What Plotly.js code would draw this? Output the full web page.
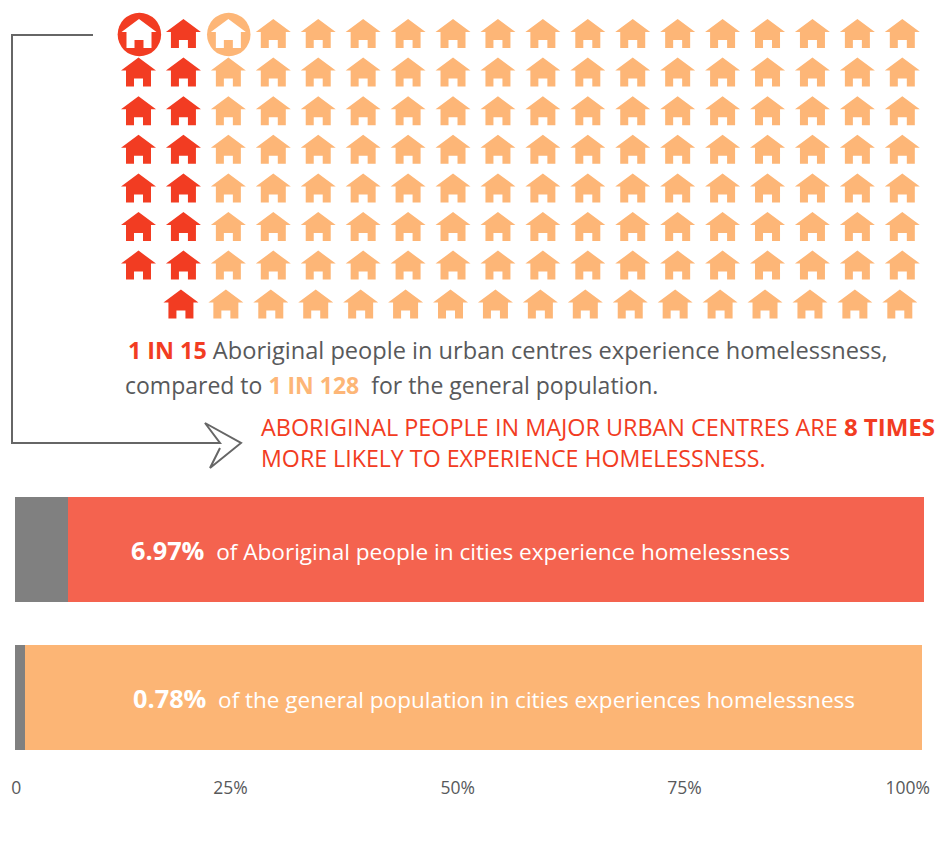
<!DOCTYPE html>
<html><head><meta charset="utf-8">
<script src="https://cdn.plot.ly/plotly-3.0.1.min.js"></script>
<style>html,body{margin:0;padding:0;background:#fff}</style></head>
<body><div id="chart" style="width:939px;height:848px"></div>
<script>
// ---- data ----
const barCategories = ["General population", "Aboriginal people"];
const grayShare = [1.1, 5.8];
const colourShare = [98.7, 94.2];
const tickPositions = [0.15, 23.7, 48.7, 73.65, 98.2];
const tickLabels = ["0", "25%", "50%", "75%", "100%"];
const redPerRow = [2, 2, 2, 2, 2, 2, 2, 1];
const orangePerRow = [16, 16, 16, 16, 16, 16, 16, 16];
const rowLeadingBlanks = [0, 0, 0, 0, 0, 0, 0, 1];
const circledColumns = [0, 2];

// ---- style ----
const RED = "#f23c22", ORANGE = "#fdb677", BAR_RED = "#f4634f", BAR_ORANGE = "#fcb575", GRAY = "#808080", INK = "#58595b";
const FONT = "'Open Sans', sans-serif";
const W = 939, H = 848;
const colX = 138.5, colStep = 44.93, rowY = 19, rowStep = 38.6, lastRowShift = -2.5;

// house outline, relative to apex
const hx = [0, 17.5, 12.5, 12.5, 4.5, 4.5, -4.5, -4.5, -12.5, -12.5, -17.5, 0];
const hy = [0, 13, 13, 29, 29, 21, 21, 29, 29, 13, 13, 0];

function addHouse(t, cx, cy) {
  hx.forEach((d, i) => { t.x.push(cx + d); t.y.push(cy + hy[i]); });
  t.x.push(null); t.y.push(null);
}
const redT = {x: [], y: []}, orT = {x: [], y: []}, whT = {x: [], y: []}, circ = {x: [], y: [], c: []};
redPerRow.forEach((nRed, r) => {
  const total = rowLeadingBlanks[r] + nRed + orangePerRow[r];
  for (let c = rowLeadingBlanks[r]; c < total; c++) {
    const isRed = c < rowLeadingBlanks[r] + nRed;
    const shift = r === redPerRow.length - 1 ? lastRowShift : 0;
    const cx = colX + c * colStep + shift + (r === 0 && c === 0 ? 0.5 : 0);
    const cy = rowY + r * rowStep + (r === redPerRow.length - 1 ? 0.4 : 0);
    if (r === 0 && circledColumns.includes(c)) {
      circ.x.push(cx + 0.4); circ.y.push(cy + 15.5); circ.c.push(isRed ? RED : ORANGE);
      addHouse(whT, cx, cy);
    } else addHouse(isRed ? redT : orT, cx, cy);
  }
});
const house = (t, col) => ({type: "scatter", mode: "lines", x: t.x, y: t.y, xaxis: "x2", yaxis: "y2", fill: "toself",
  fillcolor: col, line: {width: 0, color: col}, hoverinfo: "skip", showlegend: false, connectgaps: false});

const traces = [
  {type: "bar", orientation: "h", y: barCategories, x: grayShare, marker: {color: GRAY}, hoverinfo: "skip", showlegend: false},
  {type: "bar", orientation: "h", y: barCategories, x: colourShare, marker: {color: [BAR_ORANGE, BAR_RED]}, hoverinfo: "skip", showlegend: false},
  {type: "scatter", mode: "markers", x: circ.x, y: circ.y, xaxis: "x2", yaxis: "y2",
   marker: {size: 43.5, color: circ.c}, hoverinfo: "skip", showlegend: false},
  house(redT, RED), house(orT, ORANGE), house(whT, "#ffffff")
];

const note = (x, y, text, size, color) => ({xref: "x2", yref: "y2", x, y, text, showarrow: false,
  xanchor: "left", yanchor: "middle", align: "left", borderpad: 0, borderwidth: 0, font: {family: FONT, size, color}});
const b = (s, c, size) => `<b><span style="color:${c};font-size:${size}px">${s}</span></b>`;

const layout = {
  width: W, height: H, margin: {l: 0, r: 0, t: 0, b: 0}, paper_bgcolor: "#fff", plot_bgcolor: "rgba(0,0,0,0)",
  barmode: "stack", bargap: 43 / 148, showlegend: false,
  xaxis: {domain: [15 / W, 924 / W], range: [0, 100], tickmode: "array", tickvals: tickPositions, ticktext: tickLabels,
    showgrid: false, zeroline: false, showline: false, ticks: "", ticklabelstandoff: 4, tickfont: {family: FONT, size: 17.5, color: INK}, anchor: "y"},
  yaxis: {domain: [1 - 771.5 / H, 1 - 475.5 / H], showgrid: false, zeroline: false, showticklabels: false, ticks: "", type: "category", anchor: "x"},
  xaxis2: {domain: [0, 1], range: [0, W], visible: false, anchor: "y2"},
  yaxis2: {domain: [0, 1], range: [H, 0], visible: false, anchor: "x2"},
  shapes: [
    {type: "path", xref: "x2", yref: "y2", path: "M93,35 L12,35 L12,443 L220,443 L205,423 L241,443 L210,468 L220,448",
     line: {color: "#666666", width: 2}, fillcolor: "rgba(0,0,0,0)"}
  ],
  annotations: [
    note(128, 349.5, b("1 IN 15", RED, 23.3) + " Aboriginal people in urban centres experience homelessness,", 23.6, INK),
    note(125, 384.5, "compared to " + b("1 IN 128", ORANGE, 23) + "  for the general population.", 23, INK),
    note(261, 426.5, "ABORIGINAL PEOPLE IN MAJOR URBAN CENTRES ARE " + b("8 TIMES", RED, 24), 23.4, RED),
    note(261, 457.5, "MORE LIKELY TO EXPERIENCE HOMELESSNESS.", 23.2, RED),
    note(131, 549.5, b("6.97%", "#ffffff", 25.3) + "  of Aboriginal people in cities experience homelessness", 22.6, "#ffffff"),
    note(133, 697.5, b("0.78%", "#ffffff", 25.3) + "  of the general population in cities experiences homelessness", 22.5, "#ffffff")
  ]
};
Plotly.newPlot("chart", traces, layout, {staticPlot: true, displayModeBar: false});
</script></body></html>
